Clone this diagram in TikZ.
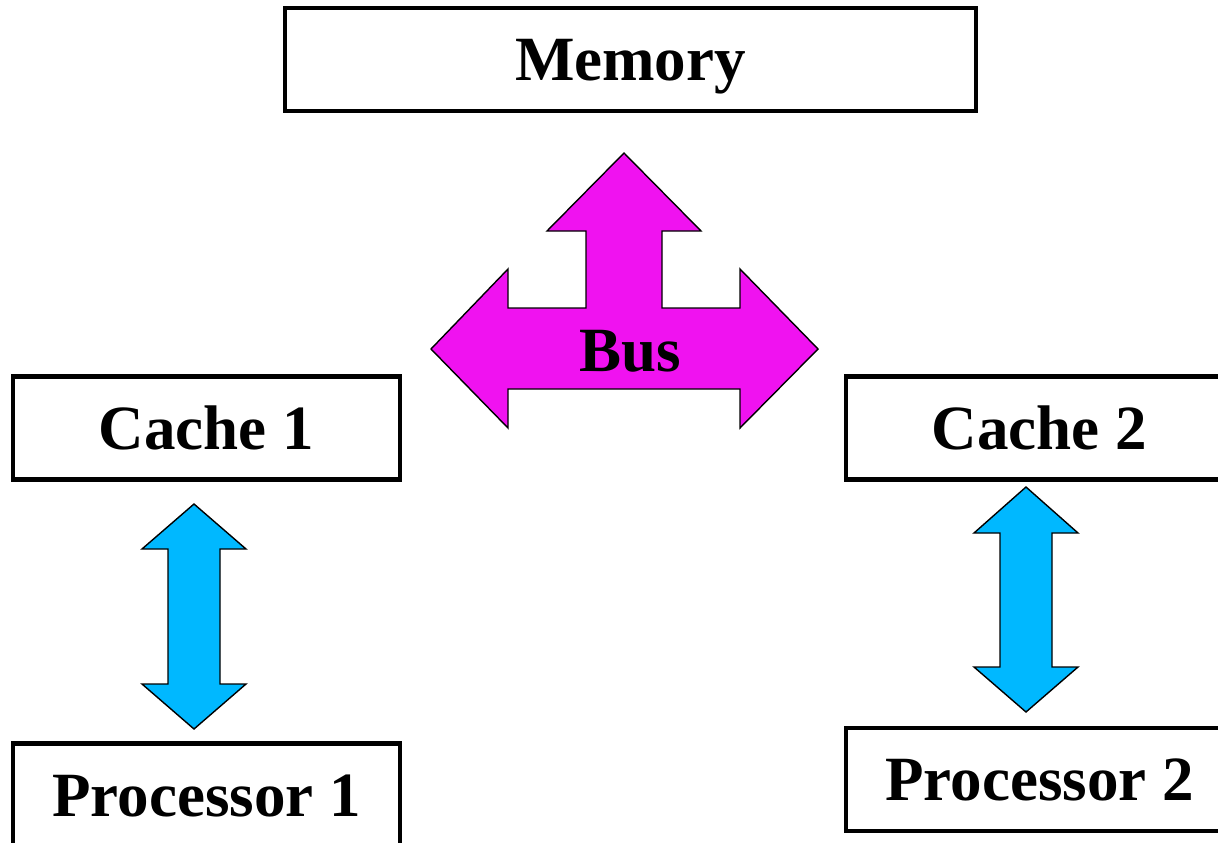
\documentclass[tikz,border=0pt]{standalone}
\usepackage{fontspec}
\setmainfont{Liberation Serif}
\begin{document}
\begin{tikzpicture}[x=1pt,y=-1pt,
  unitbox/.style={draw=black,line width=4.5pt,fill=white,inner sep=0pt,
    minimum width=#1,minimum height=103pt,text height=42pt,text depth=0pt,
    font=\fontsize{63}{70}\selectfont\bfseries},
  unitbox/.default=387pt,
  busarrow/.style={draw=black,line width=1.4pt,fill=busmag,line join=miter},
  linkarrow/.style={draw=black,line width=1.4pt,fill=linkblue,line join=miter},
  label/.style={inner sep=0pt,text height=42pt,text depth=0pt,
    font=\fontsize{63}{70}\selectfont\bfseries}
]
\definecolor{busmag}{RGB}{240,18,240}
\definecolor{linkblue}{RGB}{0,184,255}
\useasboundingbox (0,0) rectangle (1218,843);
\fill[white] (0,0) rectangle (1218,843);

% boxes
\node[unitbox=691pt] (mem) at (630.5,59.5) {Memory};
\node[unitbox] (c1) at (206.5,428) {Cache 1};
\node[unitbox] (c2) at (1039.5,428) {Cache 2};
\node[unitbox] (p1) at (206.5,795) {Processor 1};
\node[unitbox] (p2) at (1039.5,779.5) {Processor 2};

% bus arrow
\draw[busarrow] (624,153) -- (701,231) -- (662,231) -- (662,308) -- (740,308)
  -- (740,269) -- (818,349) -- (740,428) -- (740,389) -- (508,389)
  -- (508,428) -- (431,349) -- (508,269) -- (508,308) -- (586,308)
  -- (586,231) -- (547,231) -- cycle;
\node[label] (bus) at (630,350) {Bus};

% cache - processor links
\draw[linkarrow] (194,504) -- (246,549) -- (220,549) -- (220,684) -- (246,684)
  -- (194,729) -- (142,684) -- (168,684) -- (168,549) -- (142,549) -- cycle;
\draw[linkarrow] (1026,487) -- (1078,533) -- (1052,533) -- (1052,667) -- (1078,667)
  -- (1026,712) -- (974,667) -- (1000,667) -- (1000,533) -- (974,533) -- cycle;
\end{tikzpicture}
\end{document}
